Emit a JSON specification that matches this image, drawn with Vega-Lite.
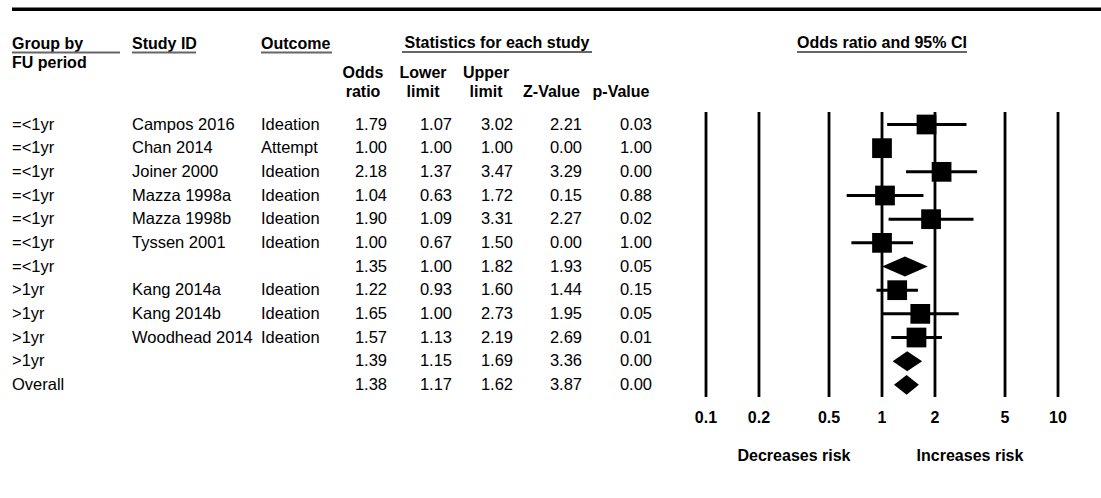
{
  "$schema": "https://vega.github.io/schema/vega-lite/v6.json",
  "padding": {"left": 10, "top": 0, "right": 0, "bottom": 0},
  "spacing": 0,
  "bounds": "flush",
  "config": {
    "view": {"stroke": null},
    "font": "Liberation Sans",
    "text": {"font": "Liberation Sans", "fontSize": 16.5, "baseline": "middle", "color": "black"},
    "rule": {"color": "black"}
  },
  "datasets": {
    "studies": [
      {"row": 0, "group": "=<1yr", "study": "Campos 2016", "outcome": "Ideation", "or": 1.79, "lower": 1.07, "upper": 3.02, "z": 2.21, "p": 0.03, "kind": "study"},
      {"row": 1, "group": "=<1yr", "study": "Chan 2014", "outcome": "Attempt", "or": 1.00, "lower": 1.00, "upper": 1.00, "z": 0.00, "p": 1.00, "kind": "study"},
      {"row": 2, "group": "=<1yr", "study": "Joiner 2000", "outcome": "Ideation", "or": 2.18, "lower": 1.37, "upper": 3.47, "z": 3.29, "p": 0.00, "kind": "study"},
      {"row": 3, "group": "=<1yr", "study": "Mazza 1998a", "outcome": "Ideation", "or": 1.04, "lower": 0.63, "upper": 1.72, "z": 0.15, "p": 0.88, "kind": "study"},
      {"row": 4, "group": "=<1yr", "study": "Mazza 1998b", "outcome": "Ideation", "or": 1.90, "lower": 1.09, "upper": 3.31, "z": 2.27, "p": 0.02, "kind": "study"},
      {"row": 5, "group": "=<1yr", "study": "Tyssen 2001", "outcome": "Ideation", "or": 1.00, "lower": 0.67, "upper": 1.50, "z": 0.00, "p": 1.00, "kind": "study"},
      {"row": 6, "group": "=<1yr", "study": "", "outcome": "", "or": 1.35, "lower": 1.00, "upper": 1.82, "z": 1.93, "p": 0.05, "kind": "summary"},
      {"row": 7, "group": ">1yr", "study": "Kang 2014a", "outcome": "Ideation", "or": 1.22, "lower": 0.93, "upper": 1.60, "z": 1.44, "p": 0.15, "kind": "study"},
      {"row": 8, "group": ">1yr", "study": "Kang 2014b", "outcome": "Ideation", "or": 1.65, "lower": 1.00, "upper": 2.73, "z": 1.95, "p": 0.05, "kind": "study"},
      {"row": 9, "group": ">1yr", "study": "Woodhead 2014", "outcome": "Ideation", "or": 1.57, "lower": 1.13, "upper": 2.19, "z": 2.69, "p": 0.01, "kind": "study"},
      {"row": 10, "group": ">1yr", "study": "", "outcome": "", "or": 1.39, "lower": 1.15, "upper": 1.69, "z": 3.36, "p": 0.00, "kind": "summary"},
      {"row": 11, "group": "Overall", "study": "", "outcome": "", "or": 1.38, "lower": 1.17, "upper": 1.62, "z": 3.87, "p": 0.00, "kind": "summary"}
    ],
    "ticks": [{"t": 0.1}, {"t": 0.2}, {"t": 0.5}, {"t": 1}, {"t": 2}, {"t": 5}, {"t": 10}]
  },
  "hconcat": [
    {
      "width": 120, "height": 498,
      "layer": [
        {"data": {"values": [{}]}, "mark": {"type": "rule", "strokeWidth": 3.5}, "encoding": {"y": {"datum": -4.871, "type": "quantitative", "scale": {"domain": [-5.26, 15.78], "reverse": true, "zero": false, "nice": false}, "axis": null}}},
        {"data": {"values": [{}]}, "mark": {"type": "text", "align": "left", "fontWeight": "bold", "fontSize": 16}, "encoding": {"x": {"value": 0}, "y": {"datum": -3.42, "type": "quantitative", "scale": {"domain": [-5.26, 15.78], "reverse": true, "zero": false, "nice": false}, "axis": null}, "text": {"value": "Group by"}}},
        {"data": {"values": [{}]}, "mark": {"type": "rule", "strokeWidth": 2, "color": "#666666"}, "encoding": {"x": {"value": 0}, "x2": {"value": 108}, "y": {"datum": -3.042, "type": "quantitative", "scale": {"domain": [-5.26, 15.78], "reverse": true, "zero": false, "nice": false}, "axis": null}}},
        {"data": {"values": [{}]}, "mark": {"type": "text", "align": "left", "fontWeight": "bold", "fontSize": 16}, "encoding": {"x": {"value": 0}, "y": {"datum": -2.619, "type": "quantitative", "scale": {"domain": [-5.26, 15.78], "reverse": true, "zero": false, "nice": false}, "axis": null}, "text": {"value": "FU period"}}},
        {"data": {"name": "studies"}, "mark": {"type": "text", "align": "left"}, "encoding": {"x": {"value": 0}, "y": {"field": "row", "type": "quantitative", "scale": {"domain": [-5.26, 15.78], "reverse": true, "zero": false, "nice": false}, "axis": null}, "text": {"field": "group"}}}
      ]
    },
    {
      "width": 129, "height": 498,
      "layer": [
        {"data": {"values": [{}]}, "mark": {"type": "rule", "strokeWidth": 3.5}, "encoding": {"y": {"datum": -4.871, "type": "quantitative", "scale": {"domain": [-5.26, 15.78], "reverse": true, "zero": false, "nice": false}, "axis": null}}},
        {"data": {"values": [{}]}, "mark": {"type": "text", "align": "left", "fontWeight": "bold", "fontSize": 16}, "encoding": {"x": {"value": 0}, "y": {"datum": -3.42, "type": "quantitative", "scale": {"domain": [-5.26, 15.78], "reverse": true, "zero": false, "nice": false}, "axis": null}, "text": {"value": "Study ID"}}},
        {"data": {"values": [{}]}, "mark": {"type": "rule", "strokeWidth": 2, "color": "#666666"}, "encoding": {"x": {"value": 0}, "x2": {"value": 64}, "y": {"datum": -3.042, "type": "quantitative", "scale": {"domain": [-5.26, 15.78], "reverse": true, "zero": false, "nice": false}, "axis": null}}},
        {"data": {"name": "studies"}, "mark": {"type": "text", "align": "left"}, "encoding": {"x": {"value": 0}, "y": {"field": "row", "type": "quantitative", "scale": {"domain": [-5.26, 15.78], "reverse": true, "zero": false, "nice": false}, "axis": null}, "text": {"field": "study"}}}
      ]
    },
    {
      "width": 79, "height": 498,
      "layer": [
        {"data": {"values": [{}]}, "mark": {"type": "rule", "strokeWidth": 3.5}, "encoding": {"y": {"datum": -4.871, "type": "quantitative", "scale": {"domain": [-5.26, 15.78], "reverse": true, "zero": false, "nice": false}, "axis": null}}},
        {"data": {"values": [{}]}, "mark": {"type": "text", "align": "left", "fontWeight": "bold", "fontSize": 16}, "encoding": {"x": {"value": 0}, "y": {"datum": -3.42, "type": "quantitative", "scale": {"domain": [-5.26, 15.78], "reverse": true, "zero": false, "nice": false}, "axis": null}, "text": {"value": "Outcome"}}},
        {"data": {"values": [{}]}, "mark": {"type": "rule", "strokeWidth": 2, "color": "#666666"}, "encoding": {"x": {"value": 0}, "x2": {"value": 71}, "y": {"datum": -3.042, "type": "quantitative", "scale": {"domain": [-5.26, 15.78], "reverse": true, "zero": false, "nice": false}, "axis": null}}},
        {"data": {"name": "studies"}, "mark": {"type": "text", "align": "left"}, "encoding": {"x": {"value": 0}, "y": {"field": "row", "type": "quantitative", "scale": {"domain": [-5.26, 15.78], "reverse": true, "zero": false, "nice": false}, "axis": null}, "text": {"field": "outcome"}}}
      ]
    },
    {
      "width": 48, "height": 498,
      "layer": [
        {"data": {"values": [{}]}, "mark": {"type": "rule", "strokeWidth": 3.5}, "encoding": {"y": {"datum": -4.871, "type": "quantitative", "scale": {"domain": [-5.26, 15.78], "reverse": true, "zero": false, "nice": false}, "axis": null}}},
        {"data": {"values": [{}]}, "mark": {"type": "text", "align": "center", "fontWeight": "bold", "fontSize": 16, "lineHeight": 19}, "encoding": {"x": {"value": 23}, "y": {"datum": -2.155, "type": "quantitative", "scale": {"domain": [-5.26, 15.78], "reverse": true, "zero": false, "nice": false}, "axis": null}, "text": {"value": ["Odds", "ratio"]}}},
        {"data": {"name": "studies"}, "mark": {"type": "text", "align": "right", "dx": -1}, "encoding": {"x": {"value": "width"}, "y": {"field": "row", "type": "quantitative", "scale": {"domain": [-5.26, 15.78], "reverse": true, "zero": false, "nice": false}, "axis": null}, "text": {"field": "or", "type": "quantitative", "format": ".2f"}}}
      ]
    },
    {
      "width": 64, "height": 498,
      "layer": [
        {"data": {"values": [{}]}, "mark": {"type": "rule", "strokeWidth": 3.5}, "encoding": {"y": {"datum": -4.871, "type": "quantitative", "scale": {"domain": [-5.26, 15.78], "reverse": true, "zero": false, "nice": false}, "axis": null}}},
        {"data": {"values": [{}]}, "mark": {"type": "text", "align": "center", "fontWeight": "bold", "fontSize": 16, "lineHeight": 19}, "encoding": {"x": {"value": 35}, "y": {"datum": -2.155, "type": "quantitative", "scale": {"domain": [-5.26, 15.78], "reverse": true, "zero": false, "nice": false}, "axis": null}, "text": {"value": ["Lower", "limit"]}}},
        {"data": {"name": "studies"}, "mark": {"type": "text", "align": "right"}, "encoding": {"x": {"value": "width"}, "y": {"field": "row", "type": "quantitative", "scale": {"domain": [-5.26, 15.78], "reverse": true, "zero": false, "nice": false}, "axis": null}, "text": {"field": "lower", "type": "quantitative", "format": ".2f"}}}
      ]
    },
    {
      "width": 61, "height": 498,
      "layer": [
        {"data": {"values": [{}]}, "mark": {"type": "rule", "strokeWidth": 3.5}, "encoding": {"y": {"datum": -4.871, "type": "quantitative", "scale": {"domain": [-5.26, 15.78], "reverse": true, "zero": false, "nice": false}, "axis": null}}},
        {"data": {"values": [{}]}, "mark": {"type": "text", "align": "center", "fontWeight": "bold", "fontSize": 16}, "encoding": {"x": {"value": 45}, "y": {"datum": -3.443, "type": "quantitative", "scale": {"domain": [-5.26, 15.78], "reverse": true, "zero": false, "nice": false}, "axis": null}, "text": {"value": "Statistics for each study"}}},
        {"data": {"values": [{}]}, "mark": {"type": "rule", "strokeWidth": 2, "color": "#666666"}, "encoding": {"x": {"value": -50}, "x2": {"value": 140}, "y": {"datum": -3.063, "type": "quantitative", "scale": {"domain": [-5.26, 15.78], "reverse": true, "zero": false, "nice": false}, "axis": null}}},
        {"data": {"values": [{}]}, "mark": {"type": "text", "align": "center", "fontWeight": "bold", "fontSize": 16, "lineHeight": 19}, "encoding": {"x": {"value": 34}, "y": {"datum": -2.155, "type": "quantitative", "scale": {"domain": [-5.26, 15.78], "reverse": true, "zero": false, "nice": false}, "axis": null}, "text": {"value": ["Upper", "limit"]}}},
        {"data": {"name": "studies"}, "mark": {"type": "text", "align": "right"}, "encoding": {"x": {"value": "width"}, "y": {"field": "row", "type": "quantitative", "scale": {"domain": [-5.26, 15.78], "reverse": true, "zero": false, "nice": false}, "axis": null}, "text": {"field": "upper", "type": "quantitative", "format": ".2f"}}}
      ]
    },
    {
      "width": 69, "height": 498,
      "layer": [
        {"data": {"values": [{}]}, "mark": {"type": "rule", "strokeWidth": 3.5}, "encoding": {"y": {"datum": -4.871, "type": "quantitative", "scale": {"domain": [-5.26, 15.78], "reverse": true, "zero": false, "nice": false}, "axis": null}}},
        {"data": {"values": [{}]}, "mark": {"type": "text", "align": "center", "fontWeight": "bold", "fontSize": 16}, "encoding": {"x": {"value": 38.5}, "y": {"datum": -1.352, "type": "quantitative", "scale": {"domain": [-5.26, 15.78], "reverse": true, "zero": false, "nice": false}, "axis": null}, "text": {"value": "Z-Value"}}},
        {"data": {"name": "studies"}, "mark": {"type": "text", "align": "right"}, "encoding": {"x": {"value": "width"}, "y": {"field": "row", "type": "quantitative", "scale": {"domain": [-5.26, 15.78], "reverse": true, "zero": false, "nice": false}, "axis": null}, "text": {"field": "z", "type": "quantitative", "format": ".2f"}}}
      ]
    },
    {
      "width": 70, "height": 498,
      "layer": [
        {"data": {"values": [{}]}, "mark": {"type": "rule", "strokeWidth": 3.5}, "encoding": {"y": {"datum": -4.871, "type": "quantitative", "scale": {"domain": [-5.26, 15.78], "reverse": true, "zero": false, "nice": false}, "axis": null}}},
        {"data": {"values": [{}]}, "mark": {"type": "text", "align": "center", "fontWeight": "bold", "fontSize": 16}, "encoding": {"x": {"value": 39}, "y": {"datum": -1.352, "type": "quantitative", "scale": {"domain": [-5.26, 15.78], "reverse": true, "zero": false, "nice": false}, "axis": null}, "text": {"value": "p-Value"}}},
        {"data": {"name": "studies"}, "mark": {"type": "text", "align": "right"}, "encoding": {"x": {"value": "width"}, "y": {"field": "row", "type": "quantitative", "scale": {"domain": [-5.26, 15.78], "reverse": true, "zero": false, "nice": false}, "axis": null}, "text": {"field": "p", "type": "quantitative", "format": ".2f"}}}
      ]
    },
    {
      "width": 449, "height": 498,
      "layer": [
        {"data": {"values": [{}]}, "mark": {"type": "rule", "strokeWidth": 3.5}, "encoding": {"y": {"datum": -4.871, "type": "quantitative", "scale": {"domain": [-5.26, 15.78], "reverse": true, "zero": false, "nice": false}, "axis": null}}},
        {"data": {"name": "ticks"}, "mark": {"type": "rule", "strokeWidth": 2.8},
         "encoding": {
           "x": {"field": "t", "type": "quantitative", "scale": {"type": "log", "domain": [0.04934, 17.55], "nice": false}, "axis": null},
           "y": {"datum": -0.528, "type": "quantitative", "scale": {"domain": [-5.26, 15.78], "reverse": true, "zero": false, "nice": false}, "axis": null},
           "y2": {"datum": 11.512}
         }},
        {"data": {"name": "ticks"}, "mark": {"type": "text", "align": "center", "fontWeight": "bold", "fontSize": 16},
         "encoding": {
           "x": {"field": "t", "type": "quantitative", "axis": null},
           "y": {"datum": 12.416, "type": "quantitative", "scale": {"domain": [-5.26, 15.78], "reverse": true, "zero": false, "nice": false}, "axis": null},
           "text": {"field": "t", "type": "quantitative", "format": "~g"}
         }},
        {"data": {"name": "studies"}, "transform": [{"filter": "datum.kind === 'study'"}], "mark": {"type": "rule", "strokeWidth": 3},
         "encoding": {
           "x": {"field": "lower", "type": "quantitative", "axis": null},
           "x2": {"field": "upper"},
           "y": {"field": "row", "type": "quantitative", "scale": {"domain": [-5.26, 15.78], "reverse": true, "zero": false, "nice": false}, "axis": null}
         }},
        {"data": {"name": "studies"}, "transform": [{"filter": "datum.kind === 'study'"}], "mark": {"type": "point", "shape": "square", "filled": true, "size": 390, "opacity": 1, "color": "black", "strokeWidth": 0},
         "encoding": {
           "x": {"field": "or", "type": "quantitative", "axis": null},
           "y": {"field": "row", "type": "quantitative", "scale": {"domain": [-5.26, 15.78], "reverse": true, "zero": false, "nice": false}, "axis": null}
         }},
        {"data": {"name": "studies"},
         "transform": [
           {"filter": "datum.kind === 'summary'"},
           {"fold": ["lower", "or", "upper"], "as": ["k", "v"]},
           {"calculate": "datum.row - (datum.k === 'or' ? 0.42 : 0)", "as": "ytop"},
           {"calculate": "datum.row + (datum.k === 'or' ? 0.42 : 0)", "as": "ybot"}
         ],
         "mark": {"type": "area", "orient": "vertical", "color": "black", "opacity": 1},
         "encoding": {
           "x": {"field": "v", "type": "quantitative", "axis": null},
           "y": {"field": "ytop", "type": "quantitative", "scale": {"domain": [-5.26, 15.78], "reverse": true, "zero": false, "nice": false}, "axis": null},
           "y2": {"field": "ybot"},
           "detail": {"field": "row", "type": "nominal"}
         }},
        {"data": {"values": [{}]}, "mark": {"type": "text", "align": "center", "fontWeight": "bold", "fontSize": 16},
         "encoding": {"x": {"datum": 1, "type": "quantitative", "axis": null}, "y": {"datum": -3.464, "type": "quantitative", "scale": {"domain": [-5.26, 15.78], "reverse": true, "zero": false, "nice": false}, "axis": null}, "text": {"value": "Odds ratio and 95% CI"}}},
        {"data": {"values": [{}]}, "mark": {"type": "rule", "strokeWidth": 2, "color": "#666666"},
         "encoding": {"x": {"datum": 0.329, "type": "quantitative", "axis": null}, "x2": {"datum": 3.04}, "y": {"datum": -3.063, "type": "quantitative", "scale": {"domain": [-5.26, 15.78], "reverse": true, "zero": false, "nice": false}, "axis": null}}},
        {"data": {"values": [{}]}, "mark": {"type": "text", "align": "center", "fontWeight": "bold", "fontSize": 16},
         "encoding": {"x": {"datum": 0.3162, "type": "quantitative", "axis": null}, "y": {"datum": 14.005, "type": "quantitative", "scale": {"domain": [-5.26, 15.78], "reverse": true, "zero": false, "nice": false}, "axis": null}, "text": {"value": "Decreases risk"}}},
        {"data": {"values": [{}]}, "mark": {"type": "text", "align": "center", "fontWeight": "bold", "fontSize": 16},
         "encoding": {"x": {"datum": 3.162, "type": "quantitative", "axis": null}, "y": {"datum": 14.005, "type": "quantitative", "scale": {"domain": [-5.26, 15.78], "reverse": true, "zero": false, "nice": false}, "axis": null}, "text": {"value": "Increases risk"}}}
      ]
    }
  ]
}
